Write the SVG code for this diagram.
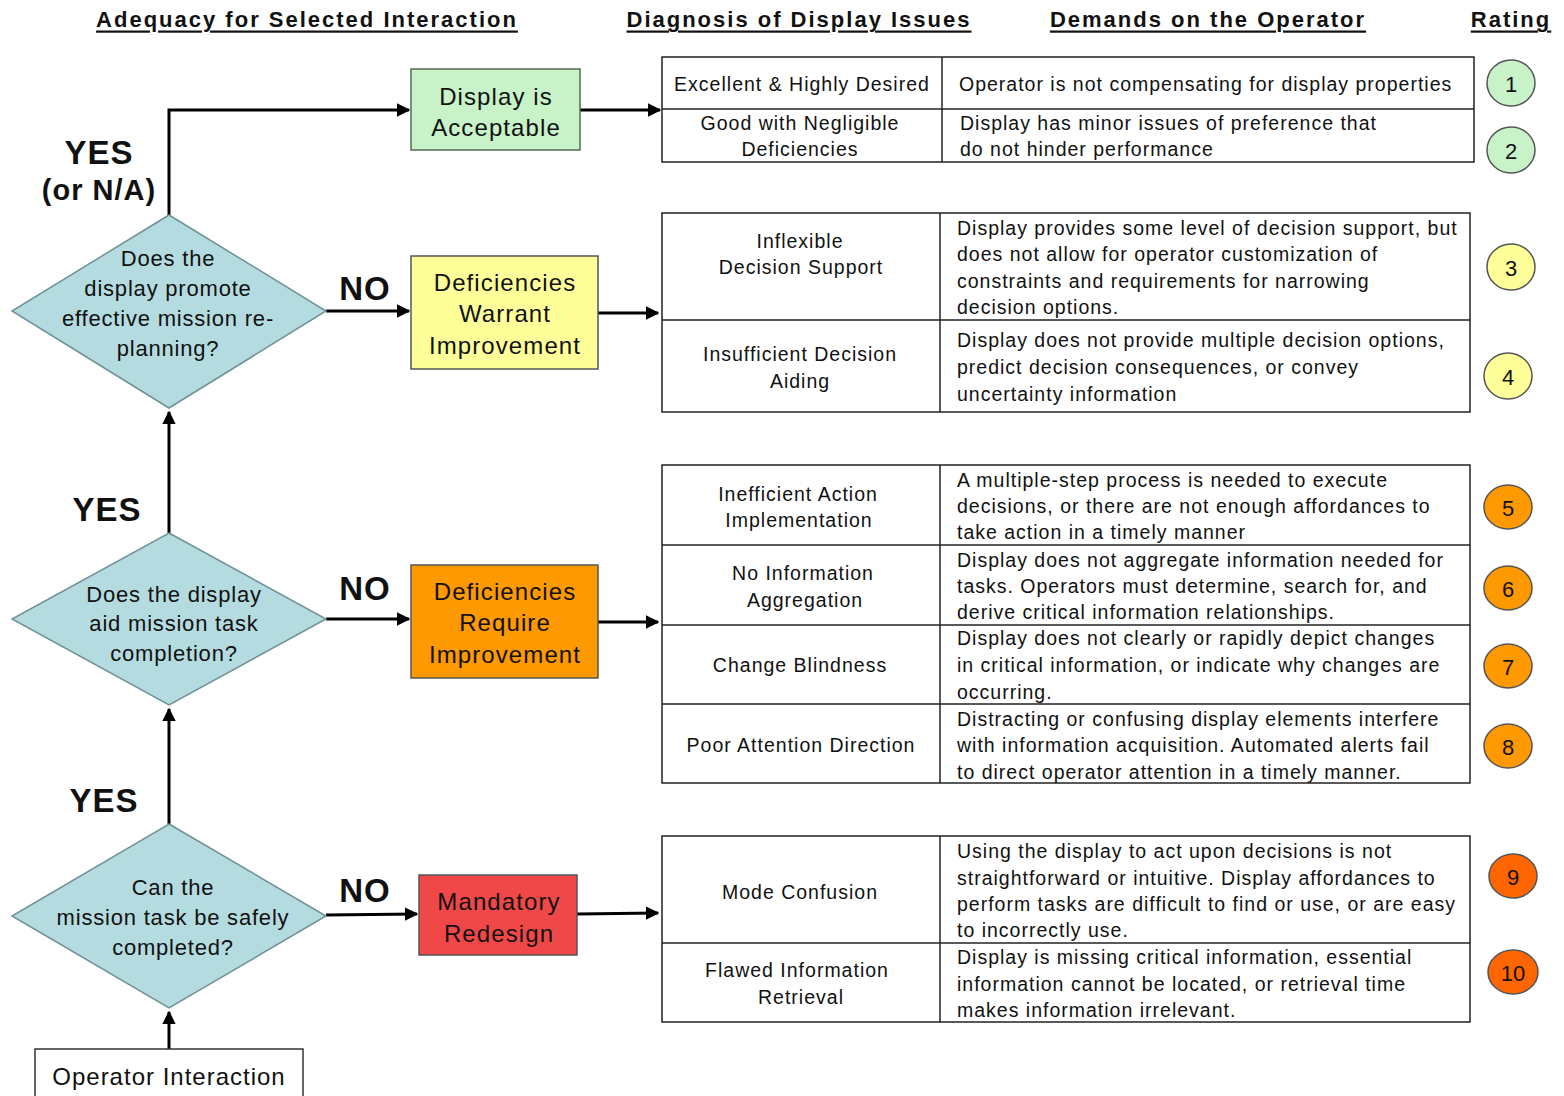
<svg xmlns="http://www.w3.org/2000/svg" width="1564" height="1096" viewBox="0 0 1564 1096">
<defs>
<marker id="ah" viewBox="0 0 10 10" refX="9" refY="5" markerWidth="4.5" markerHeight="4.5" orient="auto" markerUnits="strokeWidth">
<path d="M0,0 L10,5 L0,10 z" fill="#000"/>
</marker>
<style>
text{font-family:"Liberation Sans",Arial,sans-serif;fill:#111;dominant-baseline:central}
.hd{font-size:22px;font-weight:bold;text-anchor:middle;text-decoration:underline;letter-spacing:2px}
.dm{fill:#b4dce0;stroke:#6f9095;stroke-width:1.5}
.dt{font-size:22px;text-anchor:middle;letter-spacing:0.8px}
.bt{font-size:24px;text-anchor:middle;letter-spacing:1.1px}
.yn{font-size:33px;font-weight:bold;text-anchor:middle;letter-spacing:1px}
.tb{fill:#fff;stroke:#222;stroke-width:1.5}
.tl{stroke:#222;stroke-width:1.5}
.tc{font-size:19.5px;text-anchor:middle;letter-spacing:1px}
.tr{font-size:19.5px;letter-spacing:1px}
.cn{font-size:22px;text-anchor:middle}
.cc{stroke:#555;stroke-width:1.5}
.ar{stroke:#000;stroke-width:3;fill:none;marker-end:url(#ah)}
</style>
</defs>
<rect width="1564" height="1096" fill="#fff"/>

<g id="headers">
<text class="hd" x="307" y="19">Adequacy for Selected Interaction</text>
<text class="hd" x="799" y="19">Diagnosis of Display Issues</text>
<text class="hd" x="1208" y="19">Demands on the Operator</text>
<text class="hd" x="1511" y="19">Rating</text>
</g>

<g id="connectors">
<path class="ar" d="M169,1049 L169,1012"/>
<path class="ar" d="M169,824 L169,709"/>
<path class="ar" d="M169,533 L169,412"/>
<path class="ar" d="M169,215 L169,110 L409,110"/>
<path class="ar" d="M326,311 L409,311"/>
<path class="ar" d="M326,619 L409,619"/>
<path class="ar" d="M326,915 L417,914"/>
<path class="ar" d="M580,110 L660,110"/>
<path class="ar" d="M598,313 L658,313"/>
<path class="ar" d="M598,622 L658,622"/>
<path class="ar" d="M577,914 L658,913"/>
</g>

<g id="labels">
<text class="yn" x="99" y="152">YES</text>
<text class="yn" x="99" y="190" style="font-size:29px">(or N/A)</text>
<text class="yn" x="107" y="509">YES</text>
<text class="yn" x="104" y="800">YES</text>
<text class="yn" x="365" y="288">NO</text>
<text class="yn" x="365" y="588">NO</text>
<text class="yn" x="365" y="890">NO</text>
</g>

<g id="d1">
<polygon class="dm" points="169,215 326,311 169,408 12,311"/>
<text class="dt" x="168" y="258">Does the</text>
<text class="dt" x="168" y="288">display promote</text>
<text class="dt" x="168" y="318">effective mission re-</text>
<text class="dt" x="168" y="348">planning?</text>
</g>
<g id="d2">
<polygon class="dm" points="169,533 326,619 169,705 12,619"/>
<text class="dt" x="174" y="594">Does the display</text>
<text class="dt" x="174" y="623">aid mission task</text>
<text class="dt" x="174" y="653">completion?</text>
</g>
<g id="d3">
<polygon class="dm" points="169,824 326,916 169,1008 12,916"/>
<text class="dt" x="173" y="887">Can the</text>
<text class="dt" x="173" y="917">mission task be safely</text>
<text class="dt" x="173" y="947">completed?</text>
</g>
<g id="operator">
<rect x="35" y="1049" width="268" height="60" fill="#fff" stroke="#333" stroke-width="1.5"/>
<text class="bt" x="169" y="1076" style="letter-spacing:1px">Operator Interaction</text>
</g>

<g id="acceptable">
<rect x="411" y="69" width="169" height="81" fill="#c8f2c8" stroke="#556b55" stroke-width="1.5"/>
<text class="bt" x="496" y="96">Display is</text>
<text class="bt" x="496" y="127">Acceptable</text>
</g>
<g id="warrant">
<rect x="411" y="256" width="187" height="113" fill="#ffff99" stroke="#555" stroke-width="1.5"/>
<text class="bt" x="505" y="282">Deficiencies</text>
<text class="bt" x="505" y="313">Warrant</text>
<text class="bt" x="505" y="345">Improvement</text>
</g>
<g id="require">
<rect x="411" y="565" width="187" height="113" fill="#ff9900" stroke="#555" stroke-width="1.5"/>
<text class="bt" x="505" y="591">Deficiencies</text>
<text class="bt" x="505" y="622">Require</text>
<text class="bt" x="505" y="654">Improvement</text>
</g>
<g id="redesign">
<rect x="419" y="875" width="158" height="80" fill="#f04848" stroke="#555" stroke-width="1.5"/>
<text class="bt" x="499" y="901">Mandatory</text>
<text class="bt" x="499" y="933">Redesign</text>
</g>

<g id="table1">
<rect class="tb" x="662" y="57" width="812" height="105"/>
<line class="tl" x1="942" y1="57" x2="942" y2="162"/>
<line class="tl" x1="662" y1="109" x2="1474" y2="109"/>
<text class="tc" x="802" y="84">Excellent &amp; Highly Desired</text>
<text class="tr" x="959" y="84">Operator is not compensating for display properties</text>
<text class="tc" x="800" y="123">Good with Negligible</text>
<text class="tc" x="800" y="149">Deficiencies</text>
<text class="tr" x="960" y="123">Display has minor issues of preference that</text>
<text class="tr" x="960" y="149">do not hinder performance</text>
</g>

<g id="table2">
<rect class="tb" x="662" y="213" width="808" height="199"/>
<line class="tl" x1="940" y1="213" x2="940" y2="412"/>
<line class="tl" x1="662" y1="320" x2="1470" y2="320"/>
<text class="tc" x="800" y="241">Inflexible</text>
<text class="tc" x="801" y="267">Decision Support</text>
<text class="tr" x="957" y="228">Display provides some level of decision support, but</text>
<text class="tr" x="957" y="254">does not allow for operator customization of</text>
<text class="tr" x="957" y="281">constraints and requirements for narrowing</text>
<text class="tr" x="957" y="307">decision options.</text>
<text class="tc" x="800" y="354">Insufficient Decision</text>
<text class="tc" x="800" y="381">Aiding</text>
<text class="tr" x="957" y="340">Display does not provide multiple decision options,</text>
<text class="tr" x="957" y="367">predict decision consequences, or convey</text>
<text class="tr" x="957" y="394">uncertainty information</text>
</g>

<g id="table3">
<rect class="tb" x="662" y="465" width="808" height="318"/>
<line class="tl" x1="940" y1="465" x2="940" y2="783"/>
<line class="tl" x1="662" y1="545" x2="1470" y2="545"/>
<line class="tl" x1="662" y1="625" x2="1470" y2="625"/>
<line class="tl" x1="662" y1="704" x2="1470" y2="704"/>
<text class="tc" x="798" y="494">Inefficient Action</text>
<text class="tc" x="799" y="520">Implementation</text>
<text class="tr" x="957" y="480">A multiple-step process is needed to execute</text>
<text class="tr" x="957" y="506">decisions, or there are not enough affordances to</text>
<text class="tr" x="957" y="532">take action in a timely manner</text>
<text class="tc" x="803" y="573">No Information</text>
<text class="tc" x="805" y="600">Aggregation</text>
<text class="tr" x="957" y="560">Display does not aggregate information needed for</text>
<text class="tr" x="957" y="586">tasks. Operators must determine, search for, and</text>
<text class="tr" x="957" y="612">derive critical information relationships.</text>
<text class="tc" x="800" y="665">Change Blindness</text>
<text class="tr" x="957" y="638">Display does not clearly or rapidly depict changes</text>
<text class="tr" x="957" y="665">in critical information, or indicate why changes are</text>
<text class="tr" x="957" y="692">occurring.</text>
<text class="tc" x="801" y="745">Poor Attention Direction</text>
<text class="tr" x="957" y="719">Distracting or confusing display elements interfere</text>
<text class="tr" x="957" y="745">with information acquisition. Automated alerts fail</text>
<text class="tr" x="957" y="772">to direct operator attention in a timely manner.</text>
</g>

<g id="table4">
<rect class="tb" x="662" y="836" width="808" height="186"/>
<line class="tl" x1="940" y1="836" x2="940" y2="1022"/>
<line class="tl" x1="662" y1="943" x2="1470" y2="943"/>
<text class="tc" x="800" y="892">Mode Confusion</text>
<text class="tr" x="957" y="851">Using the display to act upon decisions is not</text>
<text class="tr" x="957" y="878">straightforward or intuitive. Display affordances to</text>
<text class="tr" x="957" y="904">perform tasks are difficult to find or use, or are easy</text>
<text class="tr" x="957" y="930">to incorrectly use.</text>
<text class="tc" x="797" y="970">Flawed Information</text>
<text class="tc" x="801" y="997">Retrieval</text>
<text class="tr" x="957" y="957">Display is missing critical information, essential</text>
<text class="tr" x="957" y="984">information cannot be located, or retrieval time</text>
<text class="tr" x="957" y="1010">makes information irrelevant.</text>
</g>

<g id="ratings">
<g id="r1"><ellipse class="cc" cx="1511" cy="83" rx="24" ry="23" fill="#c8f2c8"/><text class="cn" x="1511" y="84">1</text></g>
<g id="r2"><ellipse class="cc" cx="1511" cy="150" rx="24" ry="23" fill="#c8f2c8"/><text class="cn" x="1511" y="151">2</text></g>
<g id="r3"><ellipse class="cc" cx="1511" cy="267" rx="24" ry="23" fill="#ffff99"/><text class="cn" x="1511" y="268">3</text></g>
<g id="r4"><ellipse class="cc" cx="1508" cy="376" rx="24" ry="23" fill="#ffff99"/><text class="cn" x="1508" y="377">4</text></g>
<g id="r5"><ellipse class="cc" cx="1508" cy="507" rx="24" ry="22" fill="#ff9900"/><text class="cn" x="1508" y="508">5</text></g>
<g id="r6"><ellipse class="cc" cx="1508" cy="588" rx="24" ry="22" fill="#ff9900"/><text class="cn" x="1508" y="589">6</text></g>
<g id="r7"><ellipse class="cc" cx="1508" cy="666" rx="24" ry="22" fill="#ff9900"/><text class="cn" x="1508" y="667">7</text></g>
<g id="r8"><ellipse class="cc" cx="1508" cy="746" rx="24" ry="22" fill="#ff9900"/><text class="cn" x="1508" y="747">8</text></g>
<g id="r9"><ellipse class="cc" cx="1513" cy="876" rx="24" ry="22" fill="#ff6600"/><text class="cn" x="1513" y="877">9</text></g>
<g id="r10"><ellipse class="cc" cx="1513" cy="972" rx="25" ry="22" fill="#ff6600"/><text class="cn" x="1513" y="973">10</text></g>
</g>
</svg>
